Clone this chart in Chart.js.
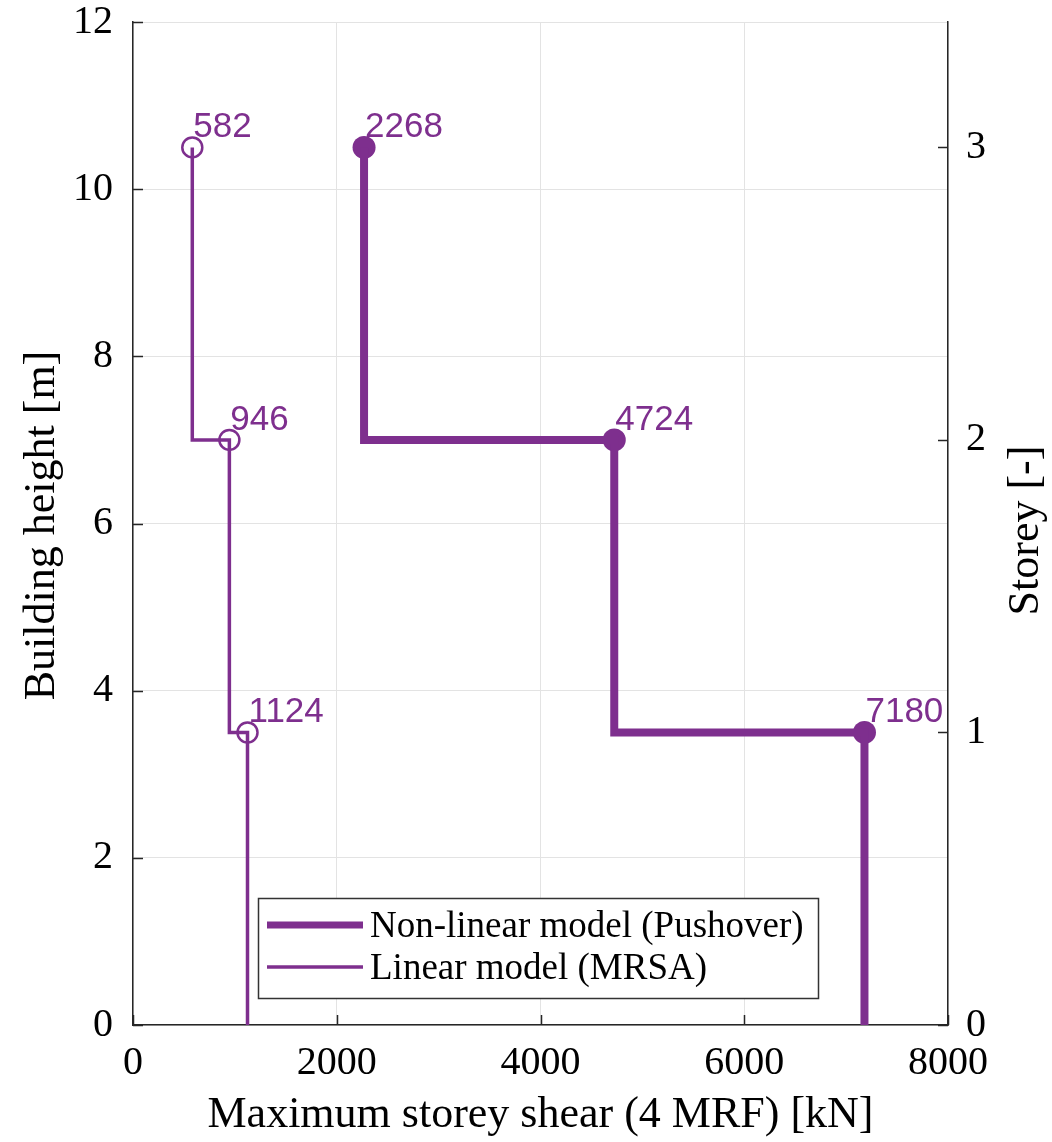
<!DOCTYPE html>
<html>
<head>
<meta charset="utf-8">
<script src="https://cdn.jsdelivr.net/npm/chart.js@4.4.1/dist/chart.umd.min.js"></script>
<style>
  html, body { margin: 0; padding: 0; background: #ffffff; }
  #wrap { width: 1052px; height: 1142px; position: relative; }
</style>
</head>
<body>
<div id="wrap"><canvas id="c"></canvas></div>
<script>
// ---- data ----
const storeyNumbers = [1, 2, 3];
const storeyHeights = [3.5, 7, 10.5];          // m
const pushoverShear = [7180, 4724, 2268];      // kN, non-linear model
const mrsaShear = [1124, 946, 582];            // kN, linear model
const xTicks = [0, 2000, 4000, 6000, 8000];
const yTicks = [0, 2, 4, 6, 8, 10, 12];
const storeyTicks = [0, 1, 2, 3];
const seriesNames = ['Non-linear model (Pushover)', 'Linear model (MRSA)'];
const axisTitles = {
  x: 'Maximum storey shear (4 MRF) [kN]',
  y: 'Building height [m]',
  y2: 'Storey [-]'
};

const PURPLE = '#7E2F8E';
const SERIF = '"Liberation Serif", "Times New Roman", serif';
const SANS = '"Liberation Sans", Arial, sans-serif';

function stepPath(shear) {
  const pts = [{x: shear[0], y: 0}];
  for (let i = 0; i < shear.length; i++) {
    pts.push({x: shear[i], y: storeyHeights[i]});
    if (i + 1 < shear.length) pts.push({x: shear[i + 1], y: storeyHeights[i]});
  }
  return pts;
}
function markers(shear) {
  return shear.map((v, i) => ({x: v, y: storeyHeights[i]}));
}

const inwardTicks = {
  id: 'inwardTicks',
  afterDatasetsDraw(chart) {
    const {ctx, chartArea: a, scales} = chart;
    const L = 10;
    ctx.save();
    ctx.strokeStyle = '#262626';
    ctx.lineWidth = 1.5;
    ctx.beginPath();
    scales.x.ticks.forEach(t => {
      const px = Math.round(scales.x.getPixelForValue(t.value)) + 0.5;
      ctx.moveTo(px, a.bottom); ctx.lineTo(px, a.bottom - L);
    });
    scales.y.ticks.forEach(t => {
      const py = Math.round(scales.y.getPixelForValue(t.value)) + 0.5;
      ctx.moveTo(a.left, py); ctx.lineTo(a.left + L, py);
    });
    scales.y2.ticks.forEach(t => {
      const py = Math.round(scales.y2.getPixelForValue(t.value)) + 0.5;
      ctx.moveTo(a.right, py); ctx.lineTo(a.right - L, py);
    });
    ctx.stroke();
    ctx.restore();
  }
};

const pointLabels = {
  id: 'pointLabels',
  afterDatasetsDraw(chart) {
    const {ctx, scales} = chart;
    ctx.save();
    ctx.fillStyle = PURPLE;
    ctx.font = '35px ' + SANS;
    ctx.textAlign = 'left';
    ctx.textBaseline = 'alphabetic';
    [pushoverShear, mrsaShear].forEach(arr => {
      arr.forEach((v, i) => {
        const px = scales.x.getPixelForValue(v);
        const py = scales.y.getPixelForValue(storeyHeights[i]);
        ctx.fillText(String(v), px + 1, py - 10);
      });
    });
    ctx.restore();
  }
};

const axisTitlePlugin = {
  id: 'axisTitlePlugin',
  afterDraw(chart) {
    const {ctx, chartArea: a} = chart;
    const cy = (a.top + a.bottom) / 2 + 2;
    ctx.save();
    ctx.fillStyle = '#000';
    ctx.font = '44px ' + SERIF;
    ctx.textAlign = 'center';
    ctx.textBaseline = 'middle';
    ctx.fillText(axisTitles.x, (a.left + a.right) / 2, a.bottom + 90);
    ctx.save();
    ctx.translate(a.left - 91, cy);
    ctx.rotate(-Math.PI / 2);
    ctx.fillText(axisTitles.y, 0, 0);
    ctx.restore();
    ctx.save();
    ctx.translate(a.right + 78, cy + 5);
    ctx.rotate(-Math.PI / 2);
    ctx.fillText(axisTitles.y2, 0, 0);
    ctx.restore();
    ctx.restore();
  }
};

const boxLegend = {
  id: 'boxLegend',
  afterDraw(chart) {
    const {ctx} = chart;
    const left = 258, top = 898, w = 560, h = 100;
    ctx.save();
    ctx.fillStyle = '#ffffff';
    ctx.fillRect(left, top, w, h);
    ctx.strokeStyle = '#333333';
    ctx.lineWidth = 1.5;
    ctx.strokeRect(left + 0.5, top + 0.5, w, h);
    const widths = [7, 3.5];
    const rows = [925, 967];
    ctx.font = '37px ' + SERIF;
    ctx.textBaseline = 'middle';
    ctx.fillStyle = '#000000';
    seriesNames.forEach((name, i) => {
      ctx.strokeStyle = PURPLE;
      ctx.lineWidth = widths[i];
      ctx.beginPath();
      ctx.moveTo(267, rows[i]); ctx.lineTo(363, rows[i]);
      ctx.stroke();
      ctx.fillText(name, 370, rows[i] + 2);
    });
    ctx.restore();
  }
};

const tickFont = {family: SERIF, size: 40};

new Chart(document.getElementById('c'), {
  type: 'scatter',
  data: {
    datasets: [
      {
        label: seriesNames[0],
        data: stepPath(pushoverShear),
        showLine: true,
        borderColor: PURPLE,
        borderWidth: 8,
        borderJoinStyle: 'miter',
        borderCapStyle: 'butt',
        pointRadius: 0,
        tension: 0,
        xAxisID: 'x', yAxisID: 'y'
      },
      {
        label: seriesNames[1],
        data: stepPath(mrsaShear),
        showLine: true,
        borderColor: PURPLE,
        borderWidth: 3.5,
        borderJoinStyle: 'miter',
        borderCapStyle: 'butt',
        pointRadius: 0,
        tension: 0,
        xAxisID: 'x', yAxisID: 'y'
      },
      {
        label: 'pushover markers',
        data: markers(pushoverShear),
        showLine: false,
        pointRadius: 11.5,
        pointBackgroundColor: PURPLE,
        pointBorderColor: PURPLE,
        pointBorderWidth: 0,
        xAxisID: 'x', yAxisID: 'y'
      },
      {
        label: 'mrsa markers',
        data: markers(mrsaShear),
        showLine: false,
        pointRadius: 10,
        pointBackgroundColor: 'rgba(255,255,255,0)',
        pointBorderColor: PURPLE,
        pointBorderWidth: 2.5,
        xAxisID: 'x', yAxisID: 'y'
      }
    ]
  },
  options: {
    responsive: true,
    maintainAspectRatio: false,
    animation: false,
    events: [],
    layout: {padding: {top: 22, left: 0, right: 0, bottom: 0}},
    plugins: {legend: {display: false}, tooltip: {enabled: false}},
    scales: {
      x: {
        type: 'linear', position: 'bottom', min: 0, max: 8000,
        afterBuildTicks(s) { s.ticks = xTicks.map(v => ({value: v})); },
        afterFit(s) { s.height = 117; s.paddingLeft = 0; s.paddingRight = 0; },
        ticks: {font: tickFont, color: '#000', padding: 14, maxRotation: 0, callback: v => String(v)},
        grid: {color: '#e3e3e3', lineWidth: 1, drawTicks: false},
        border: {color: '#262626', width: 1.5}
      },
      y: {
        type: 'linear', position: 'left', min: 0, max: 12,
        afterBuildTicks(s) { s.ticks = yTicks.map(v => ({value: v})); },
        afterFit(s) { s.width = 133; s.paddingTop = 0; s.paddingBottom = 0; },
        ticks: {font: tickFont, color: '#000', padding: 20, callback: v => String(v)},
        grid: {color: '#e3e3e3', lineWidth: 1, drawTicks: false},
        border: {color: '#262626', width: 1.5}
      },
      y2: {
        type: 'linear', position: 'right', min: 0, max: 12 / 3.5,
        afterBuildTicks(s) { s.ticks = storeyTicks.map(v => ({value: v})); },
        afterFit(s) { s.width = 104; s.paddingTop = 0; s.paddingBottom = 0; },
        ticks: {font: tickFont, color: '#000', padding: 18, callback: v => String(v)},
        grid: {display: false, drawTicks: false},
        border: {color: '#262626', width: 1.5}
      }
    }
  },
  plugins: [inwardTicks, pointLabels, axisTitlePlugin, boxLegend]
});
</script>
</body>
</html>
